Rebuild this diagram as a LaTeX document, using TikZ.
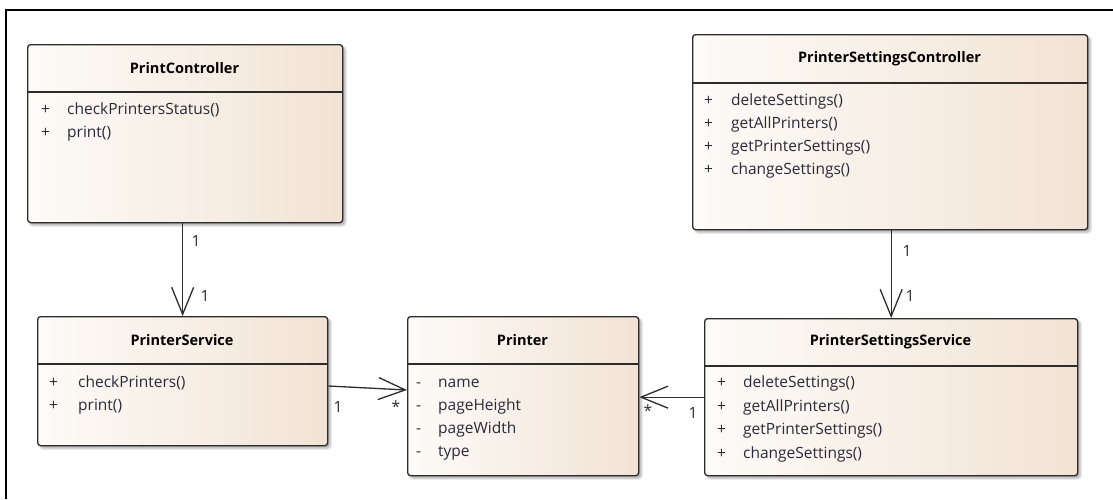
\documentclass[tikz,border=0pt]{standalone}
\usepackage{fontspec}
\setmainfont{Open Sans}
\usetikzlibrary{arrows.meta,shadows.blur}

\definecolor{boxL}{HTML}{FDFBF8}
\definecolor{boxR}{HTML}{F2E3D4}
\definecolor{edge}{HTML}{2C2C2C}
\definecolor{ink}{HTML}{2A2A3A}

\tikzset{
  classbox/.style={draw=edge, line width=1.3pt, rounded corners=3pt,
    left color=boxL, right color=boxR, anchor=north west, inner sep=0pt,
    blur shadow={shadow xshift=2.5pt, shadow yshift=-2.5pt,
      shadow blur radius=2.5pt, shadow opacity=35}},
  sepline/.style={draw=edge, line width=1.1pt},
  title/.style={font=\fontsize{14.5}{17}\selectfont\bfseries, text=black, inner sep=0pt},
  vis/.style={font=\fontsize{15.5}{18}\selectfont, text=ink, anchor=mid west, inner sep=0pt},
  member/.style={font=\fontsize{15.5}{18}\selectfont, text=ink, anchor=mid west, inner sep=0pt},
  mult/.style={font=\fontsize{15.5}{18}\selectfont, text=ink, inner sep=0pt},
  assoc/.style={draw=edge, line width=1.3pt,
    -{Straight Barb[length=27pt, width=22pt, line width=1.3pt]}},
  frame/.style={draw=black, line width=1.6pt}
}

\begin{document}
\begin{tikzpicture}[x=1pt, y=-1pt]
\useasboundingbox (0,0) rectangle (1113,499);

% outer frame (top and left edges)
\coordinate (ftr) at (1113,10);
\coordinate (ftl) at (6,10);
\coordinate (fbl) at (6,499);
\draw[frame] (ftr) -- (ftl) -- (fbl);

% ---- PrintController ----
\node[classbox, minimum width=315pt, minimum height=178pt] (pc) at (27,44) {};
\draw[sepline] ([yshift=-48pt]pc.north west) -- ([yshift=-48pt]pc.north east);
\node[title] (pc-t) at (184.5,68) {PrintController};
\node[vis] (pc-v1) at (41,112) {+};
\node[member] (pc-m1) at (67,112) {checkPrintersStatus()};
\node[vis] (pc-v2) at (41,135) {+};
\node[member] (pc-m2) at (67,135) {print()};

% ---- PrinterSettingsController ----
\node[classbox, minimum width=395pt, minimum height=195pt] (psc) at (692,34) {};
\draw[sepline] ([yshift=-49pt]psc.north west) -- ([yshift=-49pt]psc.north east);
\node[title] (psc-t) at (889.5,59) {PrinterSettingsController};
\node[vis] (psc-v1) at (704,103) {+};
\node[member] (psc-m1) at (731,103) {deleteSettings()};
\node[vis] (psc-v2) at (704,126) {+};
\node[member] (psc-m2) at (731,126) {getAllPrinters()};
\node[vis] (psc-v3) at (704,149) {+};
\node[member] (psc-m3) at (731,149) {getPrinterSettings()};
\node[vis] (psc-v4) at (704,172) {+};
\node[member] (psc-m4) at (731,172) {changeSettings()};

% ---- PrinterService ----
\node[classbox, minimum width=290pt, minimum height=129pt] (ps) at (37,316) {};
\draw[sepline] ([yshift=-48pt]ps.north west) -- ([yshift=-48pt]ps.north east);
\node[title] (ps-t) at (182,340) {PrinterService};
\node[vis] (ps-v1) at (49,385) {+};
\node[member] (ps-m1) at (78,385) {checkPrinters()};
\node[vis] (ps-v2) at (49,408) {+};
\node[member] (ps-m2) at (78,408) {print()};

% ---- Printer ----
\node[classbox, minimum width=231pt, minimum height=159pt] (pr) at (407,316) {};
\draw[sepline] ([yshift=-48pt]pr.north west) -- ([yshift=-48pt]pr.north east);
\node[title] (pr-t) at (522.5,340) {Printer};
\node[vis] (pr-v1) at (416,385) {-};
\node[member] (pr-a1) at (438,385) {name};
\node[vis] (pr-v2) at (416,408) {-};
\node[member] (pr-a2) at (438,408) {pageHeight};
\node[vis] (pr-v3) at (416,431) {-};
\node[member] (pr-a3) at (438,431) {pageWidth};
\node[vis] (pr-v4) at (416,454) {-};
\node[member] (pr-a4) at (438,454) {type};

% ---- PrinterSettingsService ----
\node[classbox, minimum width=373pt, minimum height=157pt] (pss) at (704,318) {};
\draw[sepline] ([yshift=-48pt]pss.north west) -- ([yshift=-48pt]pss.north east);
\node[title] (pss-t) at (890.5,342) {PrinterSettingsService};
\node[vis] (pss-v1) at (717,385) {+};
\node[member] (pss-m1) at (743,385) {deleteSettings()};
\node[vis] (pss-v2) at (717,408.5) {+};
\node[member] (pss-m2) at (743,408.5) {getAllPrinters()};
\node[vis] (pss-v3) at (717,432) {+};
\node[member] (pss-m3) at (743,432) {getPrinterSettings()};
\node[vis] (pss-v4) at (717,455.5) {+};
\node[member] (pss-m4) at (743,455.5) {changeSettings()};

% ---- associations ----
\draw[assoc] (ps.north |- pc.south) -- (ps.north);
\draw[assoc] (pss.north |- psc.south) -- (pss.north);
\draw[assoc] ([yshift=-70pt]ps.north east) -- ([yshift=-74pt]pr.north west);
\draw[assoc] (pss.west) -- (pss.west -| pr.east);

% ---- multiplicities ----
\node[mult] (pc-ps-a) at (196,241) {1};
\node[mult] (pc-ps-b) at (205,296) {1};
\node[mult] (psc-pss-a) at (907,251) {1};
\node[mult] (psc-pss-b) at (910,296) {1};
\node[mult] (ps-pr-a) at (338,407) {1};
\node[mult] (ps-pr-b) at (396,407) {*};
\node[mult] (pss-pr-a) at (648,411) {*};
\node[mult] (pss-pr-b) at (693,413) {1};
\end{tikzpicture}
\end{document}
